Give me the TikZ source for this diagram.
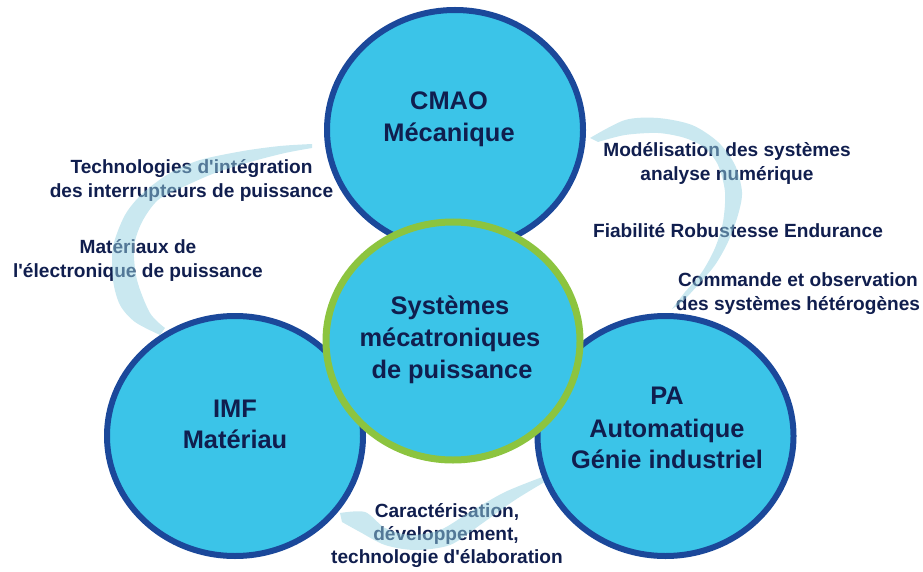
\documentclass[tikz,border=0pt]{standalone}
\usepackage{fontspec}
\setmainfont{Liberation Sans}
\usetikzlibrary{shapes.geometric}
\definecolor{navy}{RGB}{16,30,78}
\definecolor{cfill}{RGB}{59,196,232}
\definecolor{cblue}{RGB}{27,72,154}
\definecolor{cgreen}{RGB}{140,196,63}
\definecolor{swirl}{RGB}{150,210,225}
\begin{document}
\begin{tikzpicture}[x=1pt,y=-1pt,
  bubble/.style={ellipse, draw=cblue, line width=6pt, fill=cfill, minimum width=256pt, minimum height=240pt, inner sep=0pt},
  core/.style={bubble, draw=cgreen, line width=7pt, minimum width=254pt, minimum height=238pt},
  big/.style={anchor=base, inner sep=0pt, text=navy, font=\fontsize{25.4}{32}\selectfont\bfseries},
  lab/.style={anchor=base, inner sep=0pt, text=navy, font=\fontsize{19.1}{23}\selectfont\bfseries},
  brush/.style={fill=swirl, fill opacity=0.5}]
\useasboundingbox (0,0) rectangle (923,572);

% labels
\node[lab] (l1a) at (191.5,174) {Technologies d\textquotesingle intégration};
\node[lab] (l1b) at (191.5,197) {des interrupteurs de puissance};
\node[lab] (l2a) at (138,253) {Matériaux de};
\node[lab] (l2b) at (138,277) {l\textquotesingle électronique de puissance};
\node[lab] (r1a) at (727,157) {Modélisation des systèmes};
\node[lab] (r1b) at (727,181) {analyse numérique};
\node[lab] (r2) at (738,237) {Fiabilité Robustesse Endurance};
\node[lab] (r3a) at (798,286) {Commande et observation};
\node[lab] (r3b) at (798,310) {des systèmes hétérogènes};
\node[lab] (b1) at (447,517) {Caractérisation,};
\node[lab] (b2) at (446,540) {développement,};
\node[lab] (b3) at (447,563) {technologie d\textquotesingle élaboration};

% swirls
\fill[brush] plot[smooth] coordinates {(312,144) (280,146) (243,151) (200,160) (170,173) (143,193) (125,215) (113,247) (113,280) (120,305) (135,322) (160,335)}
  -- plot[smooth] coordinates {(165,328) (150,313) (137,280) (134,247) (142,222) (158,200) (183,187) (215,173) (250,162) (285,153) (312,148)} -- cycle;
\fill[brush] plot[smooth] coordinates {(590,138) (625,120) (658,118) (692,125) (718,142) (735,165) (742,192) (738,215) (728,242) (715,265) (698,285) (682,302) (672,309)}
  -- plot[smooth] coordinates {(685,292) (702,272) (715,248) (723,222) (725,192) (718,165) (705,148) (685,138) (658,133) (625,135) (598,142)} -- cycle;
\fill[brush] plot[smooth] coordinates {(340,513) (365,512) (385,528) (410,535) (440,530) (470,512) (505,492) (545,476)}
  -- plot[smooth] coordinates {(548,480) (515,500) (480,525) (450,545) (415,550) (385,545) (360,532) (342,522)} -- cycle;

% circles
\node[bubble] (cmao) at (455,130) {};
\node[bubble] (imf) at (235,436) {};
\node[bubble] (pa) at (665.5,436) {};
\node[core] (sys) at (453,341) {};

% circle texts
\node[big] (cmao1) at (449,110) {CMAO};
\node[big] (cmao2) at (449,142) {Mécanique};
\node[big] (imf1) at (235,417) {IMF};
\node[big] (imf2) at (235,448) {Matériau};
\node[big] (pa1) at (667,404) {PA};
\node[big] (pa2) at (667,437) {Automatique};
\node[big] (pa3) at (667,468) {Génie industriel};
\node[big] (sys1) at (450,314) {Systèmes};
\node[big] (sys2) at (450,346) {mécatroniques};
\node[big] (sys3) at (452,378) {de puissance};
\end{tikzpicture}
\end{document}
